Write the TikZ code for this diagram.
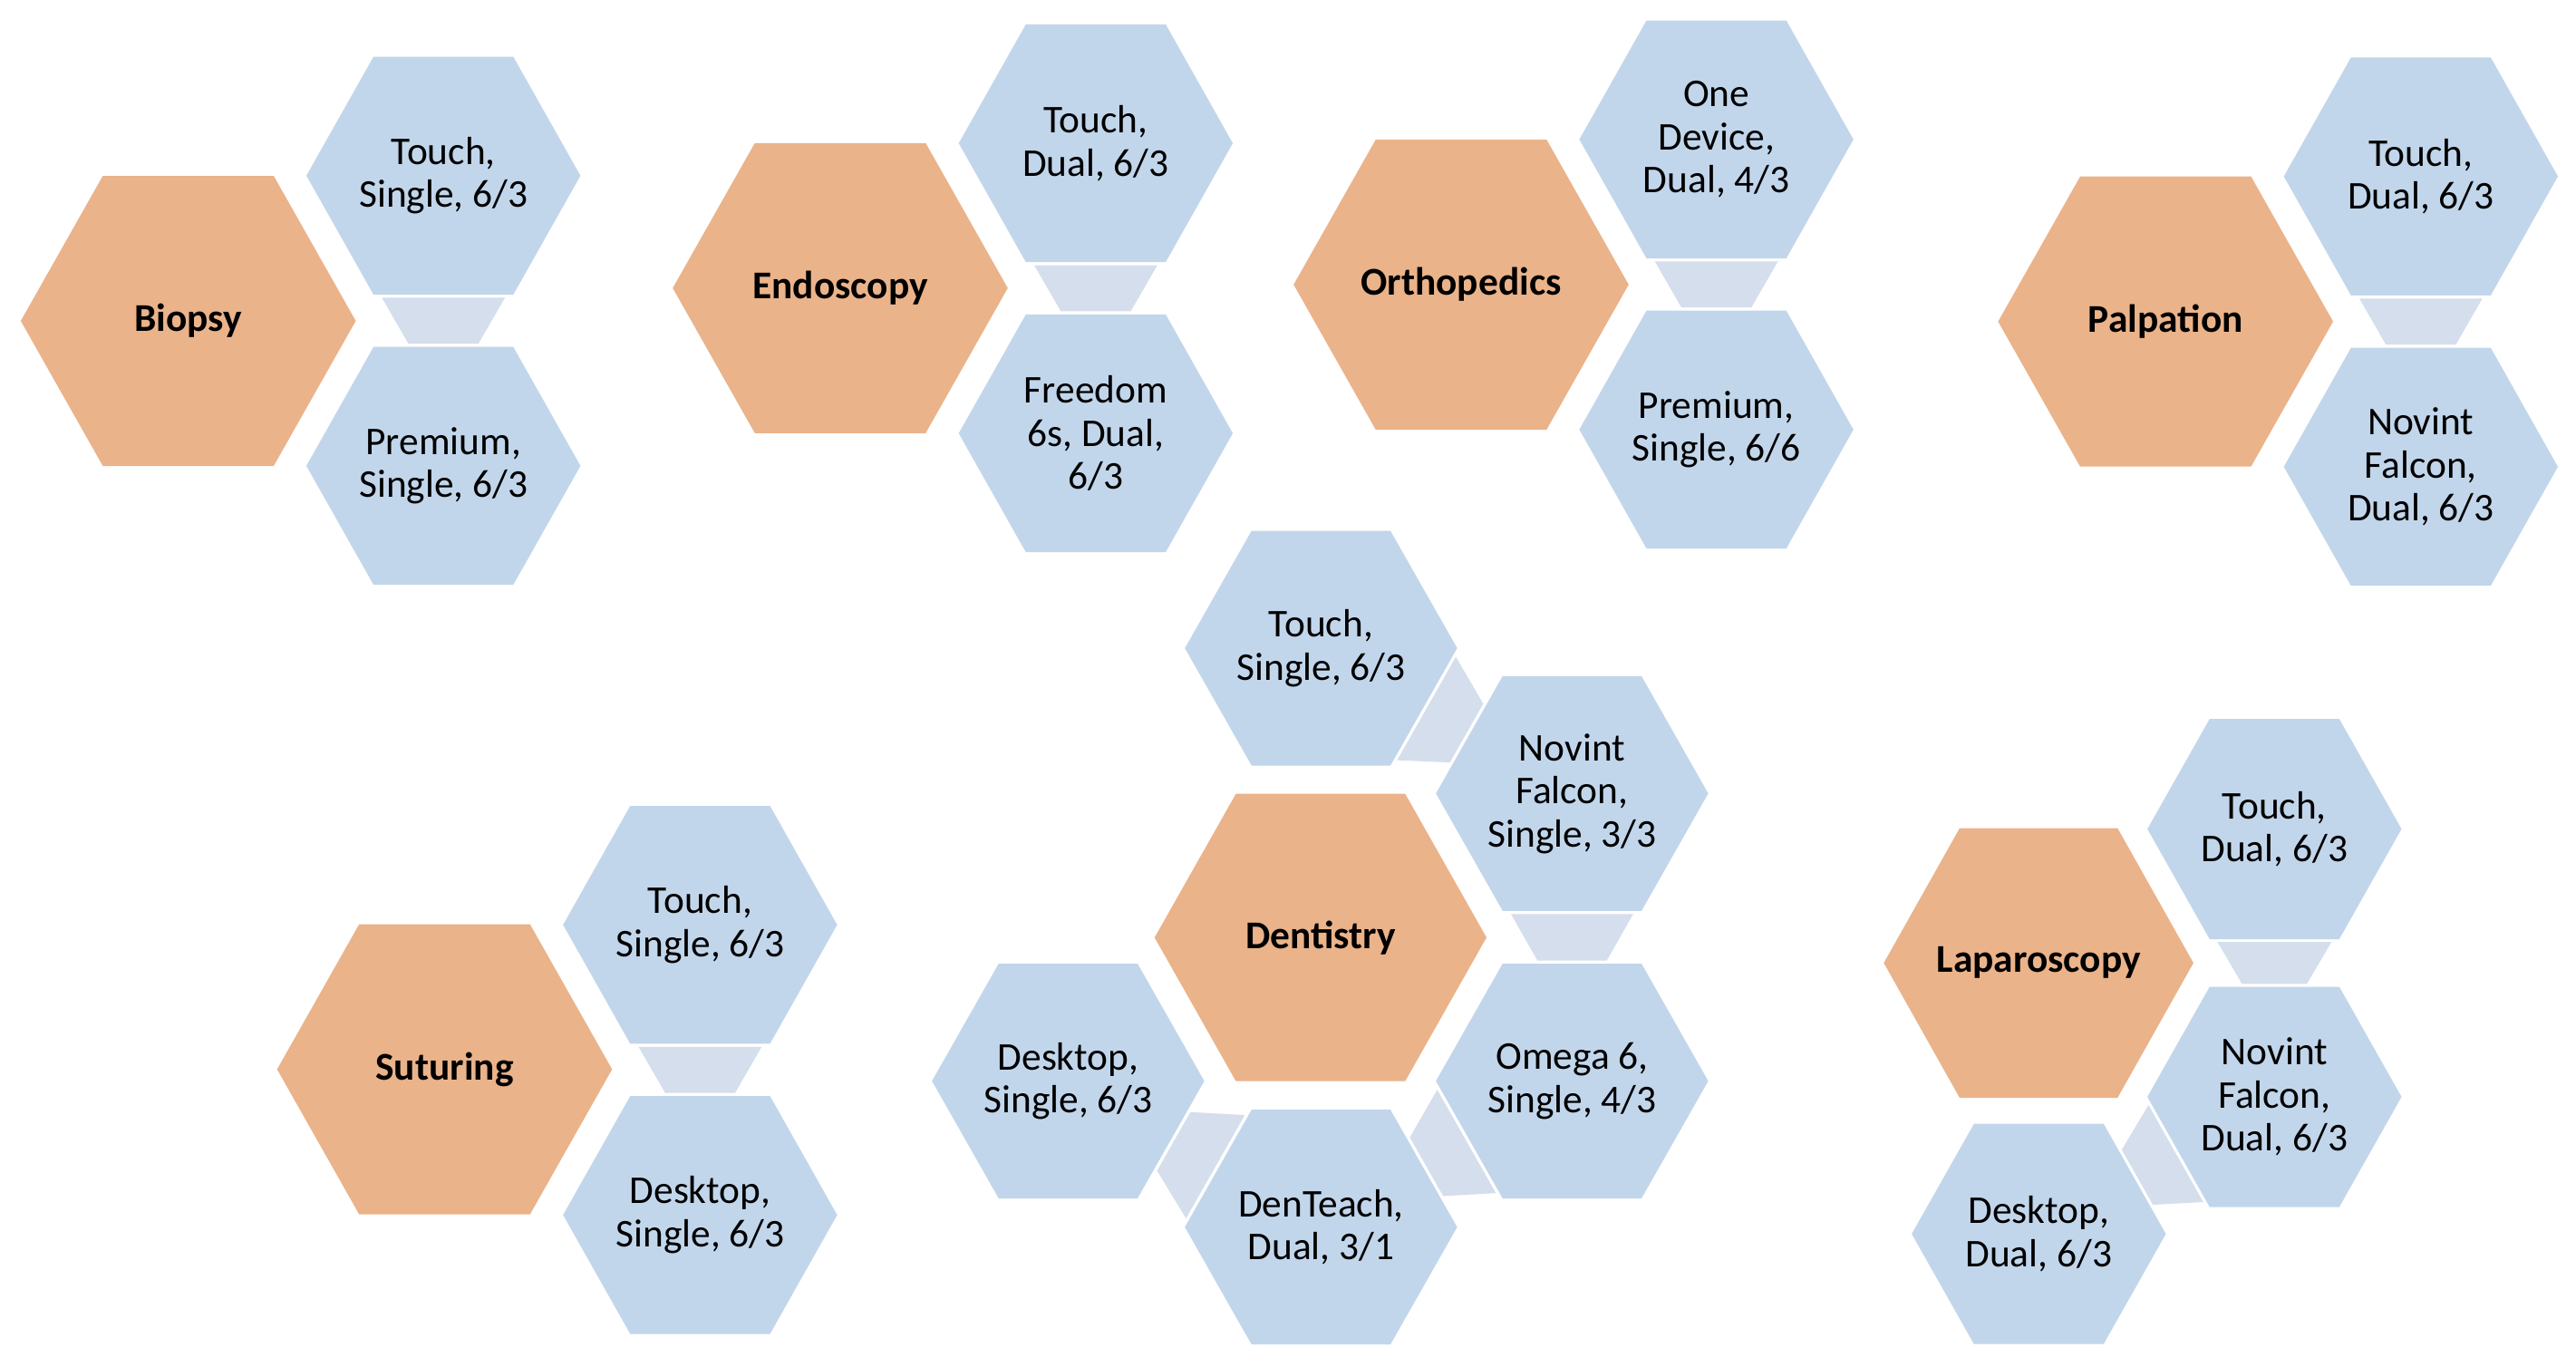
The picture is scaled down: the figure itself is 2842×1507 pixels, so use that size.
\documentclass[tikz,border=0pt]{standalone}
\usepackage{fontspec}
\setmainfont{Carlito}
\usetikzlibrary{calc,backgrounds}
\definecolor{hexorange}{RGB}{234,179,138}
\definecolor{hexblue}{RGB}{194,214,235}
\definecolor{connfill}{RGB}{213,222,236}
\tikzset{
  devbox/.style={rectangle, inner sep=0pt, align=center, font=\fontsize{43.4}{47.5}\selectfont},
  catbox/.style={rectangle, inner sep=0pt, align=center, font=\fontsize{43.4}{47.5}\selectfont\bfseries},
  connpiece/.style={fill=connfill}
}
% name, x, y, half width, half height, fill, node style, text
\newcommand\hexnode[8]{%
  \node[#7, minimum width={2*#4pt}, minimum height={2*#5pt}] (#1) at (#2,#3) {#8};
  \coordinate (#1-nw) at ($(#1.north west)!0.245!(#1.north east)$);
  \coordinate (#1-ne) at ($(#1.north west)!0.755!(#1.north east)$);
  \coordinate (#1-sw) at ($(#1.south west)!0.245!(#1.south east)$);
  \coordinate (#1-se) at ($(#1.south west)!0.755!(#1.south east)$);
  \begin{scope}[on background layer]
    \fill[#6] (#1.west) -- (#1-nw) -- (#1-ne) -- (#1.east) -- (#1-se) -- (#1-sw) -- cycle;
  \end{scope}}
\newcommand\cathex[6]{\hexnode{#1}{#2}{#3}{#4}{#5}{hexorange}{catbox}{#6}}
\newcommand\devhex[6]{\hexnode{#1}{#2}{#3}{#4}{#5}{hexblue}{devbox}{#6}}
% long edge (#1,#2) facing short edge (#3,#4); #1 faces #3, #2 faces #4
\newcommand\hexconn[4]{%
  \coordinate (cp) at ($(#1)!0.06!(#2)$);
  \coordinate (cq) at ($(#3)!0.06!(#4)$);
  \coordinate (cr) at ($(#2)!0.06!(#1)$);
  \coordinate (cs) at ($(#4)!0.06!(#3)$);
  \coordinate (ct) at ($(#3)!0.25!(#4)$);
  \coordinate (cu) at ($(#1)!0.25!(#2)$);
  \coordinate (cv) at ($(#4)!0.25!(#3)$);
  \coordinate (cw) at ($(#2)!0.25!(#1)$);
  \fill[connpiece] ($(cp)!0.06!(cq)$) -- ($(cr)!0.06!(cs)$) -- ($(cv)!0.06!(cw)$) -- ($(ct)!0.06!(cu)$) -- cycle;}
\begin{document}
\begin{tikzpicture}[x=1pt,y=-1pt]
\begin{scope}[on background layer]
  \fill[white] (0,0) rectangle (2842,1507);
\end{scope}
\useasboundingbox (0,0) rectangle (2842,1507);

% Biopsy
\cathex{b}{207.7}{354}{184.6}{159.8}{Biopsy}
\devhex{b1}{489.2}{193.8}{151}{131}{Touch,\\Single, 6/3}
\devhex{b2}{489.2}{513.9}{151}{131}{Premium,\\Single, 6/3}
\hexconn{b1-sw}{b1-se}{b2-nw}{b2-ne}

% Endoscopy
\cathex{e}{927}{317.8}{184.6}{159.8}{Endoscopy}
\devhex{e1}{1208.9}{158}{151}{131}{Touch,\\Dual, 6/3}
\devhex{e2}{1208.9}{478}{151}{131}{Freedom\\6s, Dual,\\6/3}
\hexconn{e1-sw}{e1-se}{e2-nw}{e2-ne}

% Orthopedics
\cathex{o}{1612}{314}{184.6}{159.8}{Orthopedics}
\devhex{o1}{1893.6}{153.8}{151}{131}{One\\Device,\\Dual, 4/3}
\devhex{o2}{1893.6}{473.9}{151}{131}{Premium,\\Single, 6/6}
\hexconn{o1-sw}{o1-se}{o2-nw}{o2-ne}

% Palpation
\cathex{p}{2389.2}{354.7}{184.6}{159.8}{Palpation}
\devhex{p1}{2670.8}{194.6}{151}{131}{Touch,\\Dual, 6/3}
\devhex{p2}{2670.8}{514.9}{151}{131}{Novint\\Falcon,\\Dual, 6/3}
\hexconn{p1-sw}{p1-se}{p2-nw}{p2-ne}

% Suturing
\cathex{s}{490.5}{1179.6}{184.6}{159.8}{Suturing}
\devhex{s1}{772.4}{1020.2}{151}{131}{Touch,\\Single, 6/3}
\devhex{s2}{772.4}{1340.3}{151}{131}{Desktop,\\Single, 6/3}
\hexconn{s1-sw}{s1-se}{s2-nw}{s2-ne}

% Dentistry
\cathex{d}{1456.9}{1034.2}{182.9}{158.3}{Dentistry}
\devhex{d1}{1457.4}{715}{150}{129.3}{Touch,\\Single, 6/3}
\devhex{d2}{1734.4}{875.3}{150}{129.3}{Novint\\Falcon,\\Single, 3/3}
\devhex{d3}{1734.4}{1192.5}{150}{129.3}{Omega 6,\\Single, 4/3}
\devhex{d4}{1457.4}{1353.7}{150}{129.3}{DenTeach,\\Dual, 3/1}
\devhex{d5}{1178.4}{1192.5}{150}{129.3}{Desktop,\\Single, 6/3}
\hexconn{d1.east}{d1-se}{d2-nw}{d2.west}
\hexconn{d2-sw}{d2-se}{d3-nw}{d3-ne}
\hexconn{d3.west}{d3-sw}{d4-ne}{d4.east}
\hexconn{d4-nw}{d4.west}{d5.east}{d5-se}

% Laparoscopy
\cathex{l}{2249.1}{1062.3}{170.6}{148.5}{Laparoscopy}
\devhex{l1}{2509.3}{914.5}{140}{121.3}{Touch,\\Dual, 6/3}
\devhex{l2}{2509.3}{1210}{140}{121.3}{Novint\\Falcon,\\Dual, 6/3}
\devhex{l3}{2249.3}{1361.2}{140}{121.3}{Desktop,\\Dual, 6/3}
\hexconn{l1-sw}{l1-se}{l2-nw}{l2-ne}
\hexconn{l2.west}{l2-sw}{l3-ne}{l3.east}
\end{tikzpicture}
\end{document}
